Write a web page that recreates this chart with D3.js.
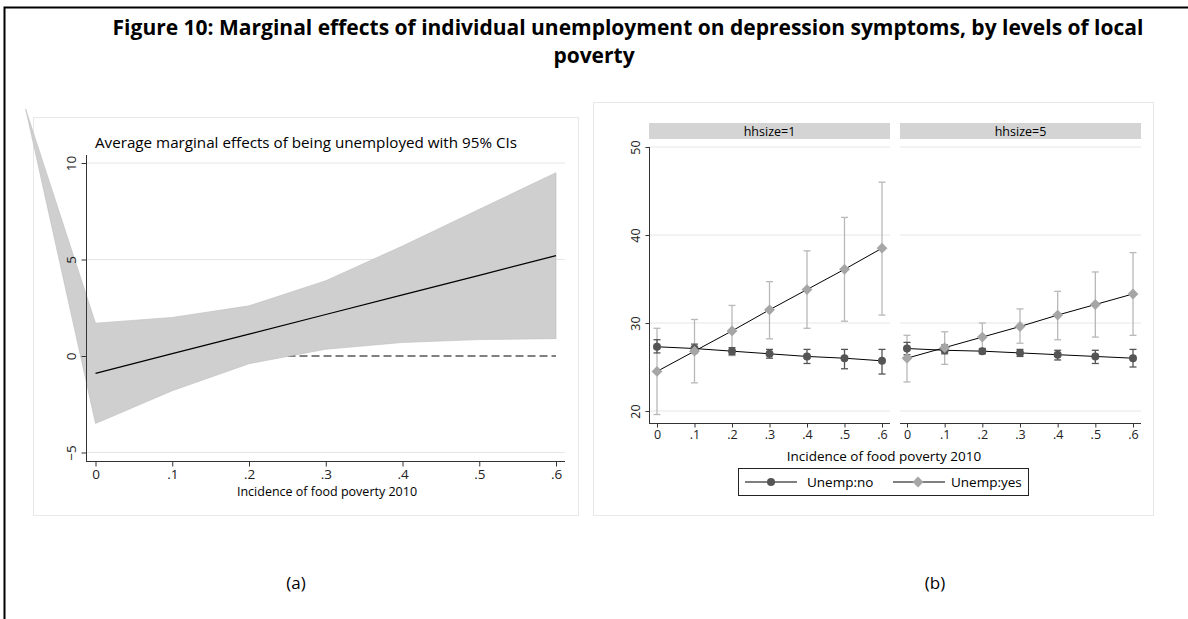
<!DOCTYPE html>
<html><head><meta charset="utf-8">
<script src="https://cdn.jsdelivr.net/npm/d3@7"></script>
<style>body{margin:0;background:#fff}svg{display:block}text{font-family:"Open Sans",sans-serif}</style>
</head><body><svg id="c" width="1188" height="619"></svg>
<script>
// ---- data ----
const xTicks=[0,.1,.2,.3,.4,.5,.6];
const xTickLabels=["0",".1",".2",".3",".4",".5",".6"];
// panel (a)
const aX=[-0.091,0,.1,.2,.3,.4,.5,.6];
const aUpper=[12.8,1.7,2.0,2.6,3.9,5.7,7.6,9.5];
const aLower=[12.8,-3.5,-1.8,-0.4,0.35,0.7,0.85,0.9];
const aEffect=[-0.9,0.12,1.13,2.15,3.17,4.18,5.2];
const aYTicks=[-5,0,5,10];
// panel (b)
const panels=["hhsize=1","hhsize=5"];
const noMean=[[27.3,27.1,26.8,26.5,26.2,26.0,25.7],[27.1,26.9,26.8,26.6,26.4,26.2,26.0]];
const noLo=[[26.6,26.6,26.4,26.0,25.4,24.8,24.2],[26.4,26.5,26.5,26.2,25.8,25.4,25.0]];
const noHi=[[28.1,27.6,27.2,27.0,27.0,27.0,27.0],[27.8,27.5,27.1,27.0,26.9,26.9,27.0]];
const yesMean=[[24.5,26.8,29.1,31.5,33.8,36.1,38.5],[26.0,27.2,28.4,29.6,30.9,32.1,33.3]];
const yesLo=[[19.6,23.2,26.3,28.2,29.4,30.2,30.9],[23.3,25.3,26.6,27.7,28.1,28.4,28.6]];
const yesHi=[[29.4,30.4,32.0,34.7,38.2,42.0,46.0],[28.6,29.0,30.0,31.6,33.6,35.8,38.0]];
const bYTicks=[20,30,40,50];
const legendLabels=["Unemp:no","Unemp:yes"];

const svg=d3.select("#c");
svg.append("path").attr("d","M4.5,619 V7.5 H1188").attr("fill","none").attr("stroke","#000").attr("stroke-width",2);
svg.append("text").attr("x",628).attr("y",35).attr("text-anchor","middle").attr("font-size",21).attr("font-weight","bold")
 .text("Figure 10: Marginal effects of individual unemployment on depression symptoms, by levels of local");
svg.append("text").attr("x",594).attr("y",63).attr("text-anchor","middle").attr("font-size",21).attr("font-weight","bold").text("poverty");
svg.append("text").attr("x",296).attr("y",589).attr("text-anchor","middle").attr("font-size",17).text("(a)");
svg.append("text").attr("x",935).attr("y",589).attr("text-anchor","middle").attr("font-size",17).text("(b)");

function styleText(g,size){g.attr("font-size",null).attr("font-family",null);g.selectAll("text").attr("font-size",size).style("font-size",size+"px").style("font-family","Open Sans").attr("fill","#222");g.selectAll(".tick line").attr("stroke","#333");}

// ---- panel a ----
svg.append("rect").attr("x",33.5).attr("y",117.5).attr("width",545).attr("height",398).attr("fill","#fff").attr("stroke","#e8e8e8");
const xa=d3.scaleLinear().domain([0,.6]).range([95.5,556]);
const ya=d3.scaleLinear().domain([0,10]).range([356,163]);
aYTicks.filter(v=>v!==0).forEach(v=>svg.append("line").attr("x1",86).attr("x2",565).attr("y1",ya(v)).attr("y2",ya(v)).attr("stroke","#e6e6e6"));
svg.append("line").attr("x1",xa(0)).attr("x2",xa(.6)).attr("y1",ya(0)).attr("y2",ya(0)).attr("stroke","#000").attr("stroke-dasharray","8,4");
const band=d3.area().x((d,i)=>xa(aX[i])).y0((d,i)=>ya(aLower[i])).y1((d,i)=>ya(aUpper[i]));
svg.append("path").datum(aX).attr("d",band).attr("fill","#cfcfcf").attr("stroke","#bdbdbd").attr("stroke-width",0.6);
svg.append("path").datum(aEffect).attr("d",d3.line().x((d,i)=>xa(xTicks[i])).y(d=>ya(d))).attr("fill","none").attr("stroke","#000").attr("stroke-width",1.2);
const gxa=svg.append("g").attr("transform","translate(0,461.5)").call(d3.axisBottom(xa).tickValues(xTicks).tickFormat((d,i)=>xTickLabels[i]).tickSize(5).tickSizeOuter(0));
gxa.select(".domain").attr("d","M86,0H565").attr("stroke","#333");
const gya=svg.append("g").attr("transform","translate(86.5,0)").call(d3.axisLeft(ya).tickValues(aYTicks).tickSize(5).tickSizeOuter(0));
gya.select(".domain").attr("d","M0,155V462").attr("stroke","#333");
gya.selectAll(".tick text").attr("transform","rotate(-90)").attr("x",0).attr("y",-11).attr("dy","0").attr("text-anchor","middle");
styleText(gxa,13.5);styleText(gya,13.5);
svg.append("text").attr("x",327).attr("y",496).attr("text-anchor","middle").attr("font-size",12.5).text("Incidence of food poverty 2010");
svg.append("text").attr("x",95).attr("y",148).attr("font-size",15.2).text("Average marginal effects of being unemployed with 95% CIs");

// ---- panel b ----
svg.append("rect").attr("x",593.5).attr("y",102.5).attr("width",560).attr("height",413).attr("fill","#fff").attr("stroke","#e8e8e8");
const yb=d3.scaleLinear().domain([20,50]).range([411,147]);
const pX=[[649,890],[900,1141]];
const xR=[[657,882],[907,1133]];
const noC="#555555", yesC="#a6a6a6", yesBar="#b8b8b8";
panels.forEach((p,k)=>{
  const xb=d3.scaleLinear().domain([0,.6]).range(xR[k]);
  svg.append("rect").attr("x",pX[k][0]).attr("y",123).attr("width",pX[k][1]-pX[k][0]).attr("height",16).attr("fill","#d4d4d4");
  svg.append("text").attr("x",(pX[k][0]+pX[k][1])/2).attr("y",136).attr("text-anchor","middle").attr("font-size",12.5).text(p);
  bYTicks.forEach(v=>svg.append("line").attr("x1",pX[k][0]).attr("x2",pX[k][1]).attr("y1",yb(v)).attr("y2",yb(v)).attr("stroke","#e6e6e6"));
  const bars=(lo,hi,col)=>xTicks.forEach((x,i)=>{
    const g=svg.append("g").attr("stroke",col).attr("stroke-width",1.3);
    g.append("line").attr("x1",xb(x)).attr("x2",xb(x)).attr("y1",yb(lo[k][i])).attr("y2",yb(hi[k][i]));
    [lo[k][i],hi[k][i]].forEach(v=>g.append("line").attr("x1",xb(x)-3.5).attr("x2",xb(x)+3.5).attr("y1",yb(v)).attr("y2",yb(v)));
  });
  bars(yesLo,yesHi,yesBar); bars(noLo,noHi,noC);
  const ln=d3.line().x((d,i)=>xb(xTicks[i])).y(d=>yb(d));
  svg.append("path").datum(noMean[k]).attr("d",ln).attr("fill","none").attr("stroke","#000").attr("stroke-width",1);
  svg.append("path").datum(yesMean[k]).attr("d",ln).attr("fill","none").attr("stroke","#000").attr("stroke-width",1);
  noMean[k].forEach((v,i)=>svg.append("circle").attr("cx",xb(xTicks[i])).attr("cy",yb(v)).attr("r",4).attr("fill",noC));
  yesMean[k].forEach((v,i)=>svg.append("path").attr("d",d3.symbol(d3.symbolDiamond2,75)()).attr("transform",`translate(${xb(xTicks[i])},${yb(v)})`).attr("fill",yesC));
  const gx=svg.append("g").attr("transform","translate(0,423.5)").call(d3.axisBottom(xb).tickValues(xTicks).tickFormat((d,i)=>xTickLabels[i]).tickSize(4).tickSizeOuter(0));
  gx.select(".domain").attr("d",`M${pX[k][0]},0H${pX[k][1]}`).attr("stroke","#333");
  styleText(gx,12.5);
});
const gyb=svg.append("g").attr("transform","translate(649.5,0)").call(d3.axisLeft(yb).tickValues(bYTicks).tickSize(4).tickSizeOuter(0));
gyb.select(".domain").attr("d","M0,147V423").attr("stroke","#333");
gyb.selectAll(".tick text").attr("transform","rotate(-90)").attr("x",0).attr("y",-10).attr("dy","0").attr("text-anchor","middle");
styleText(gyb,12.5);
svg.append("text").attr("x",884).attr("y",461).attr("text-anchor","middle").attr("font-size",13.5).text("Incidence of food poverty 2010");
// legend
svg.append("rect").attr("x",738.5).attr("y",468.5).attr("width",290).attr("height",27).attr("fill","#fff").attr("stroke","#222");
[[745,771,797,legendLabels[0],noC,"c"],[893,918,941,legendLabels[1],yesC,"d"]].forEach(([x1,cx,x2,lab,col,t])=>{
  svg.append("line").attr("x1",x1).attr("x2",x1+52).attr("y1",482).attr("y2",482).attr("stroke","#000");
  if(t==="c") svg.append("circle").attr("cx",cx).attr("cy",482).attr("r",4).attr("fill",col);
  else svg.append("path").attr("d",d3.symbol(d3.symbolDiamond2,75)()).attr("transform",`translate(${cx},482)`).attr("fill",col);
  svg.append("text").attr("x",x2+10).attr("y",487).attr("font-size",13.5).text(lab);
});
</script></body></html>
